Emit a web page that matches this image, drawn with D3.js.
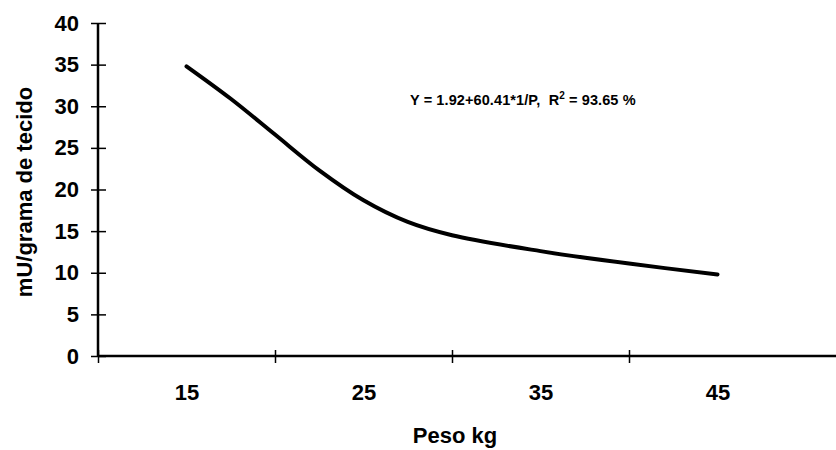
<!DOCTYPE html>
<html>
<head>
<meta charset="utf-8">
<script src="https://cdn.jsdelivr.net/npm/d3@7"></script>
<style>
  body { margin: 0; background: #fff; }
  text { font-family: "Liberation Sans", Arial, sans-serif; font-weight: bold; fill: #000; }
</style>
</head>
<body>
<div id="chart"></div>
<script>
// curve (Peso kg vs mU/grama de tecido)
var pesoValues = [15, 17.5, 20, 22.5, 25, 27.5, 30, 35, 40, 45];
var mUValues = [34.8, 30.9, 26.6, 22.3, 18.7, 16.1, 14.5, 12.6, 11.1, 9.8];
var xTickMarks = [10, 20, 30, 40];
var xTickLabels = [15, 25, 35, 45];
var yTicks = [0, 5, 10, 15, 20, 25, 30, 35, 40];
var equationText = "Y = 1.92+60.41*1/P,  R";

var svgWidth = 836, svgHeight = 450;

var svg = d3.select("#chart")
  .append("svg")
  .attr("width", svgWidth)
  .attr("height", svgHeight);

var x = d3.scaleLinear().domain([10, 50]).range([98, 806]);
var y = d3.scaleLinear().domain([0, 40]).range([356, 23]);

// x axis: line to the right edge, tick marks crossing it
svg.append("line")
  .attr("x1", x(10)).attr("x2", svgWidth)
  .attr("y1", y(0)).attr("y2", y(0))
  .attr("stroke", "#000").attr("stroke-width", 2.5);

var xAxis = svg.append("g")
  .attr("transform", "translate(0," + y(0) + ")")
  .call(d3.axisBottom(x).tickValues(xTickMarks).tickFormat(""));
xAxis.select(".domain").remove();
xAxis.selectAll(".tick line").attr("y1", -6).attr("y2", 7).attr("stroke-width", 1.5);

var xLabels = svg.append("g")
  .attr("transform", "translate(0," + y(0) + ")")
  .call(d3.axisBottom(x).tickValues(xTickLabels).tickSize(0).tickPadding(28));
xLabels.select(".domain").remove();
xLabels.selectAll("text").style("font-size", "22px").style("font-family", "'Liberation Sans', Arial, sans-serif");

// y axis
var yAxis = svg.append("g")
  .attr("transform", "translate(" + x(10) + ",0)")
  .call(d3.axisLeft(y).tickValues(yTicks));
yAxis.select(".domain").attr("d", "M0," + y(40) + "V" + y(0)).attr("stroke-width", 2.5);
yAxis.selectAll(".tick line").attr("x1", -7).attr("x2", 8).attr("stroke-width", 1.5);
yAxis.selectAll(".tick text")
  .attr("x", -19)
  .style("font-size", "22px")
  .style("font-family", "'Liberation Sans', Arial, sans-serif");

// fitted curve
var line = d3.line()
  .x(function(d, i) { return x(pesoValues[i]); })
  .y(function(d) { return y(d); })
  .curve(d3.curveCatmullRom.alpha(0.5));

svg.append("path")
  .datum(mUValues)
  .attr("d", line)
  .attr("fill", "none")
  .attr("stroke", "#000")
  .attr("stroke-width", 4)
  .attr("stroke-linecap", "round");

// equation
var eq = svg.append("text")
  .attr("x", 410)
  .attr("y", 105)
  .style("font-size", "14.5px")
  .style("white-space", "pre")
  .style("letter-spacing", "0.1px");
eq.append("tspan").text(equationText);
eq.append("tspan").attr("dy", -6).style("font-size", "10px").text("2");
eq.append("tspan").attr("dy", 6).text(" = 93.65 %");

// axis titles
svg.append("text")
  .attr("x", 455)
  .attr("y", 443)
  .attr("text-anchor", "middle")
  .style("font-size", "22px")
  .text("Peso kg");

svg.append("text")
  .attr("transform", "translate(32,192) rotate(-90)")
  .attr("text-anchor", "middle")
  .style("font-size", "22px")
  .text("mU/grama de tecido");
</script>
</body>
</html>
